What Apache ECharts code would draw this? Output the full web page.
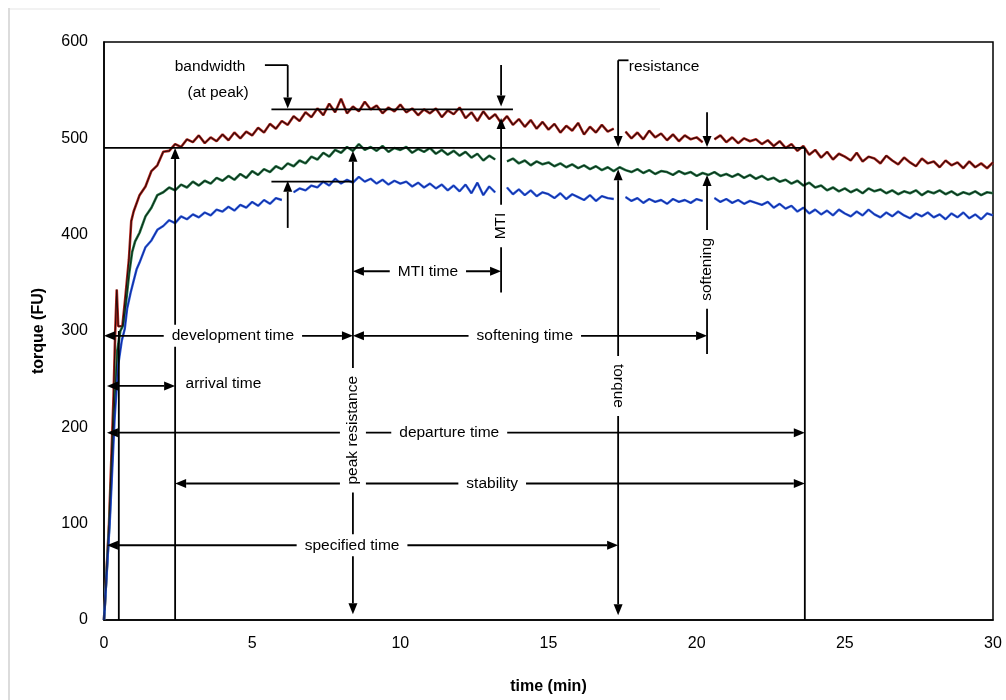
<!DOCTYPE html>
<html><head><meta charset="utf-8">
<script src="https://cdn.jsdelivr.net/npm/echarts@6/dist/echarts.min.js"></script>
<style>html,body{margin:0;padding:0;background:#fff}#chart{width:1006px;height:700px}</style>
</head><body><div id="chart"></div>
<script>
// ---- axes ----
const xMin = 0, xMax = 30, xStep = 5;
const yMin = 0, yMax = 600, yStep = 100;

// ---- curves: early rise (explicit times) + regular samples from 1.2 min every 0.2 min ----
const gridStart = 1.2, gridStep = 0.2;

const redEarlyT = [0, 0.17, 0.32, 0.38, 0.43, 0.48, 0.62, 0.72, 0.84, 0.92, 1.0];
const redEarlyV = [0, 100, 230, 300, 343, 305, 305, 335, 374, 414, 424];
const redV = [
  441,450,466,472,486, 487,494,491,499,496, 503,495,501,497,504, 498,506,500,507,503,
  511,506,515,510,518, 514,523,518,527,522, 531,524,536,527,541, 526,533,528,538,530,
  534,526,532,528,535, 527,531,524,530,526, 531,522,529,525,532, 521,527,518,528,520,
  525,516,523,514,520, 512,519,510,517,509, 515,506,513,508,516, 504,512,506,514,507,
  510,502,507,500,506, 499,508,501,505,498, 504,497,503,499,501, 496,502,499,503,496,
  501,495,500,497,499, 494,498,492,497,490, 494,487,492,483,488, 480,486,478,484,481,
  477,485,476,481,479, 474,482,477,473,480, 475,471,479,474,476, 470,477,472,475,469,
  476,470,474,469,475
];
const redBreaks = [17.4, 20.4];

const greenEarlyT = [0, 0.18, 0.34, 0.45, 0.55, 0.65, 0.73, 0.85, 0.95, 1.05];
const greenEarlyV = [0, 100, 215, 280, 300, 306, 326, 360, 382, 393];
const greenV = [
  402,419,428,441,444, 449,446,452,449,455, 451,456,453,459,456, 461,457,463,459,466,
  462,468,465,471,468, 474,471,477,474,481, 478,485,481,488,485, 491,487,494,488,491,
  487,492,486,490,488, 491,485,489,486,490, 484,488,483,487,482, 486,480,484,477,482,
  478,477,476,479,474, 477,472,476,473,475, 471,474,470,473,469, 472,468,471,467,470,
  466,470,467,465,468, 464,467,463,466,465, 462,466,463,465,461, 464,462,465,461,463,
  460,463,459,462,458, 461,457,459,455,457, 453,456,451,454,449, 451,446,449,445,448,
  444,447,443,448,445, 447,443,446,442,445, 443,446,441,445,443, 446,442,445,441,444,
  442,445,441,444,443
];
const greenBreaks = [13.4];

const blueEarlyT = [0, 0.2, 0.36, 0.48, 0.6, 0.7, 0.78, 0.9, 1.0, 1.1];
const blueEarlyV = [0, 105, 210, 265, 290, 302, 323, 340, 352, 364];
const blueV = [
  371,387,394,405,409, 415,412,419,416,421, 418,423,420,426,424, 429,425,431,428,434,
  430,436,432,438,436, 440,444,448,446,451, 449,455,451,458,453, 457,454,460,455,458,
  453,457,452,456,453, 455,450,454,449,453, 448,452,446,451,445, 452,443,454,441,450,
  444,446,449,442,447, 441,446,440,444,442, 438,443,437,442,439, 436,441,435,440,438,
  437,436,439,435,438, 433,437,434,436,432, 437,434,436,433,437, 435,436,438,434,437,
  433,436,432,435,433, 431,434,428,432,427, 430,424,428,422,426, 421,425,420,426,422,
  419,424,420,426,421, 418,423,419,424,420, 417,422,419,423,418, 421,416,422,418,423,
  417,421,416,422,420
];
const blueBreaks = [6.2, 13.4, 17.4, 20.4];

// ---- annotation segments: [t1, v1, t2, v2, arrowAtStart, arrowAtEnd] ----
const annotSegs = [
  [0, 490, 23.65, 490, 0, 0],
  [5.65, 530, 13.8, 530, 0, 0],
  [5.65, 455, 8.4, 455, 0, 0],
  [5.43, 576, 6.2, 576, 0, 0],
  [6.2, 576, 6.2, 531, 0, 1],
  [6.2, 407, 6.2, 456, 0, 1],
  [0.5, 0, 0.5, 300, 0, 0],
  [2.4, 0, 2.4, 490, 0, 1],
  [8.4, 6, 8.4, 487, 1, 1],
  [13.4, 576, 13.4, 533, 0, 1],
  [13.4, 340, 13.4, 521, 0, 1],
  [8.4, 362, 13.4, 362, 1, 1],
  [0, 295, 8.4, 295, 1, 1],
  [8.4, 295, 20.35, 295, 1, 1],
  [20.35, 527, 20.35, 491, 0, 1],
  [20.35, 276, 20.35, 462, 0, 1],
  [17.35, 581, 17.7, 581, 0, 0],
  [17.35, 581, 17.35, 491, 0, 1],
  [17.35, 5, 17.35, 468, 1, 1],
  [23.65, 0, 23.65, 490, 0, 0],
  [0.1, 243, 2.4, 243, 1, 1],
  [0.1, 194.5, 23.65, 194.5, 1, 1],
  [2.4, 141.7, 23.65, 141.7, 1, 1],
  [0.1, 77.6, 17.35, 77.6, 1, 1]
];

// ---- annotation labels ----
const labelTexts = ['bandwidth', '(at peak)', 'resistance', 'MTI', 'MTI time', 'development time',
  'softening time', 'softening', 'arrival time', 'peak resistance', 'departure time', 'torque',
  'stability', 'specified time'];
const labelT = [3.58, 3.85, 18.9, 13.4, 10.93, 4.35, 14.2, 20.35, 4.03, 8.4, 11.65, 17.35, 13.1, 8.37];
const labelV = [574, 547, 574, 409, 362, 295, 295, 364, 245, 197, 194.5, 243, 141.7, 77.6];
const labelRot = [0, 0, 0, 90, 0, 0, 0, 90, 0, 90, 0, -90, 0, 0];
const maskedLabels = new Set(['MTI', 'MTI time', 'development time', 'softening time', 'softening',
  'peak resistance', 'departure time', 'torque', 'stability', 'specified time']);

function buildCurve(earlyT, earlyV, vals, breaks) {
  const pts = earlyT.map((t, i) => [t, earlyV[i]]);
  vals.forEach((v, i) => {
    const t = +(gridStart + i * gridStep).toFixed(2);
    const isBreak = breaks.some(b => Math.abs(b - t) < 1e-6);
    pts.push([t, isBreak ? '-' : v]);
  });
  return pts;
}
const redData = buildCurve(redEarlyT, redEarlyV, redV, redBreaks);
const greenData = buildCurve(greenEarlyT, greenEarlyV, greenV, greenBreaks);
const blueData = buildCurve(blueEarlyT, blueEarlyV, blueV, blueBreaks);

const FONT = "'Liberation Sans', Arial, sans-serif";
const ARROW_LEN = 11, ARROW_HALF = 4.5, LINE_W = 1.8;

function curve(name, data, color, width, z) {
  return {
    name, type: 'line', data, showSymbol: false, symbol: 'none', connectNulls: false,
    lineStyle: { color, width }, z, silent: true, animation: false
  };
}

function arrowHead(tip, from) {
  const dx = tip[0] - from[0], dy = tip[1] - from[1];
  const len = Math.hypot(dx, dy) || 1;
  const ux = dx / len, uy = dy / len;
  const bx = tip[0] - ux * ARROW_LEN, by = tip[1] - uy * ARROW_LEN;
  return {
    base: [bx, by],
    shape: {
      type: 'polygon',
      shape: { points: [tip, [bx - uy * ARROW_HALF, by + ux * ARROW_HALF], [bx + uy * ARROW_HALF, by - ux * ARROW_HALF]] },
      style: { fill: '#000' }
    }
  };
}

function renderArrow(params, api) {
  const p1 = api.coord([api.value(0), api.value(1)]);
  const p2 = api.coord([api.value(2), api.value(3)]);
  const children = [];
  let a = p1, b = p2;
  if (api.value(4)) { const h = arrowHead(p1, p2); children.push(h.shape); a = h.base; }
  if (api.value(5)) { const h = arrowHead(p2, p1); children.push(h.shape); b = h.base; }
  children.unshift({
    type: 'line', shape: { x1: a[0], y1: a[1], x2: b[0], y2: b[1] },
    style: { stroke: '#000', lineWidth: LINE_W }
  });
  return { type: 'group', children };
}

const labelData = labelTexts.map((txt, i) => ({
  name: txt,
  value: [labelT[i], labelV[i]],
  label: {
    rotate: labelRot[i],
    backgroundColor: maskedLabels.has(txt) ? '#fff' : 'transparent',
    padding: maskedLabels.has(txt) ? (labelRot[i] ? [5, 8] : [3, 8]) : 0
  }
}));

const chart = echarts.init(document.getElementById('chart'), null, { renderer: 'canvas' });
chart.setOption({
  backgroundColor: '#fff',
  animation: false,
  grid: { left: 104, right: 13, top: 42, bottom: 78, show: true, borderColor: '#000', borderWidth: 1.5, backgroundColor: 'transparent' },
  xAxis: {
    type: 'value', min: xMin, max: xMax, interval: xStep,
    axisLine: { show: true, lineStyle: { color: '#000', width: 1.5 } },
    axisTick: { show: false }, splitLine: { show: false },
    axisLabel: { color: '#000', fontSize: 16, fontFamily: FONT, margin: 16 },
    name: 'time (min)', nameLocation: 'middle', nameGap: 59,
    nameTextStyle: { color: '#000', fontSize: 16, fontWeight: 'bold', fontFamily: FONT }
  },
  yAxis: {
    type: 'value', min: yMin, max: yMax, interval: yStep,
    axisLine: { show: true, lineStyle: { color: '#000', width: 1.5 } },
    axisTick: { show: false }, splitLine: { show: false },
    axisLabel: { color: '#000', fontSize: 16, fontFamily: FONT, margin: 16 },
    name: 'torque (FU)', nameLocation: 'middle', nameGap: 57,
    nameTextStyle: { color: '#000', fontSize: 16, fontWeight: 'bold', fontFamily: FONT }
  },
  graphic: [
    { type: 'line', shape: { x1: 9, y1: 8, x2: 9, y2: 700 }, style: { stroke: '#dcdcdc', lineWidth: 2 }, silent: true },
    { type: 'line', shape: { x1: 10, y1: 9, x2: 660, y2: 9 }, style: { stroke: '#eeeeee', lineWidth: 1.5 }, silent: true }
  ],
  series: [
    curve('red', redData, '#b8281f', 2.6, 2),
    curve('redCore', redData, '#2a0a0a', 1.1, 3),
    curve('green', greenData, '#2b7d4f', 2.6, 2),
    curve('greenCore', greenData, '#0c2a16', 1.1, 3),
    curve('blue', blueData, '#2a5bd7', 2.4, 2),
    curve('blueCore', blueData, '#13279a', 1.0, 3),
    {
      name: 'annotations', type: 'custom', data: annotSegs, renderItem: renderArrow,
      encode: { x: [0, 2], y: [1, 3] }, z: 8, silent: true, animation: false, clip: false
    },
    {
      name: 'labels', type: 'scatter', data: labelData, symbolSize: 0, z: 30, silent: true, animation: false,
      itemStyle: { color: '#000', opacity: 1 },
      label: {
        show: true, position: 'inside', formatter: p => p.name,
        color: '#000', fontSize: 15.5, fontFamily: FONT,
        textBorderWidth: 0, textBorderColor: 'transparent', opacity: 1
      }
    }
  ]
});
</script></body></html>
